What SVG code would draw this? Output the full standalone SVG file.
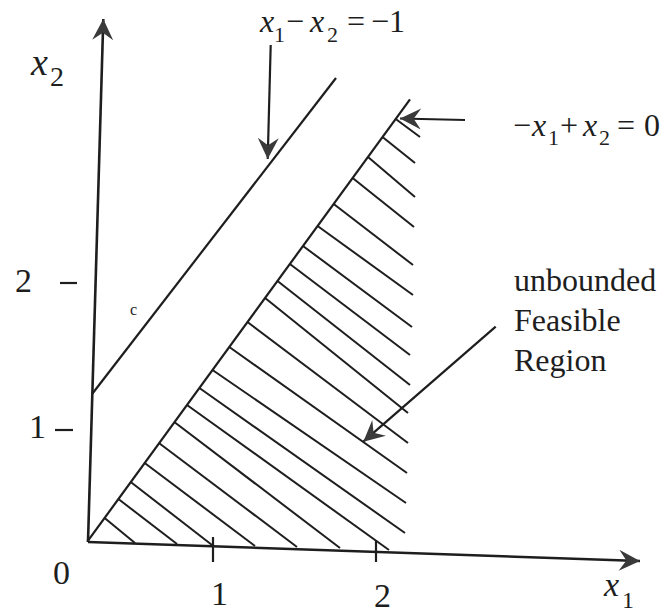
<svg xmlns="http://www.w3.org/2000/svg" width="664" height="613" viewBox="0 0 664 613">
<style>
.ln{stroke:#1e1e1e;stroke-width:2.2;fill:none;stroke-linecap:butt}
.ax{stroke:#1e1e1e;stroke-width:2.6;fill:none}
.ar{stroke:#1e1e1e;stroke-width:2.2;fill:none;marker-end:url(#ah)}
.hat line{stroke:#1e1e1e;stroke-width:2}
text{font-family:"Liberation Serif","Times New Roman",serif;fill:#1e1e1e}
.it{font-style:italic}
.lab{font-size:32px}
.num{font-size:34px}
</style>
<defs>
<marker id="ah" viewBox="0 0 20 20" refX="20" refY="10" markerWidth="22" markerHeight="21" markerUnits="userSpaceOnUse" orient="auto">
<path d="M0,0 L20,10 L0,20 L7,10 z" fill="#3a3a3a"/>
</marker>
</defs>
<g id="axes">
<line class="ax" x1="88" y1="542" x2="103.3" y2="19" marker-end="url(#ah)"/>
<line class="ax" x1="88" y1="542" x2="640" y2="561" marker-end="url(#ah)"/>
<line class="ln" x1="213" y1="537" x2="213" y2="562"/>
<line class="ln" x1="376" y1="540" x2="376" y2="562"/>
<line class="ln" x1="60" y1="283" x2="77" y2="283"/>
<line class="ln" x1="55" y1="430" x2="73" y2="430"/>
</g>
<g id="lines">
<line class="ln" x1="92.5" y1="393.5" x2="336" y2="78"/>
<line class="ln" x1="87.3" y1="541.7" x2="410" y2="99.3"/>
</g>
<g id="hatching" class="hat">
<line x1="104.6" y1="518" x2="135" y2="543"/>
<line x1="118.4" y1="499" x2="177" y2="544"/>
<line x1="130.7" y1="482" x2="212" y2="545"/>
<line x1="144.7" y1="463" x2="255" y2="546"/>
<line x1="158.9" y1="443" x2="297" y2="547"/>
<line x1="174.3" y1="422" x2="340" y2="548"/>
<line x1="187" y1="405" x2="389" y2="550"/>
<line x1="199.4" y1="388" x2="405" y2="533"/>
<line x1="212.5" y1="370" x2="406" y2="503"/>
<line x1="229.3" y1="347" x2="407" y2="473"/>
<line x1="247.5" y1="322" x2="408" y2="443"/>
<line x1="265.1" y1="298" x2="408" y2="413"/>
<line x1="277.5" y1="281" x2="410" y2="385"/>
<line x1="289.9" y1="264" x2="410" y2="355"/>
<line x1="303" y1="246" x2="412" y2="327"/>
<line x1="317.6" y1="226" x2="413" y2="295"/>
<line x1="333.7" y1="204" x2="413" y2="265"/>
<line x1="352.6" y1="178" x2="414" y2="227"/>
<line x1="368" y1="157" x2="415" y2="197"/>
<line x1="382.5" y1="137" x2="415" y2="163"/>
<line x1="395.7" y1="119" x2="420" y2="137"/>
</g>
<g id="connectors">
<line class="ar" x1="270.7" y1="45" x2="267.7" y2="159"/>
<line class="ar" x1="465" y1="120" x2="400" y2="118.5"/>
<line class="ar" x1="495.7" y1="326.7" x2="363.3" y2="441.7"/>
</g>
<g id="label-x2">
<text x="31" y="75" class="it" font-size="38">x</text>
<text x="50" y="86" font-size="28">2</text>
</g>
<g id="label-x1">
<text x="604" y="596" class="it" font-size="34">x</text>
<text x="622" y="608" font-size="24">1</text>
</g>
<g id="eq1">
<text class="lab" y="32"><tspan x="260" class="it">x</tspan><tspan x="274" y="42" font-size="22">1</tspan><tspan x="286" y="32">−</tspan><tspan x="310" class="it">x</tspan><tspan x="327" y="42" font-size="22">2</tspan><tspan x="347" y="32">=</tspan><tspan x="371">−1</tspan></text>
</g>
<g id="eq2">
<text class="lab" y="136"><tspan x="513">−</tspan><tspan x="532" class="it">x</tspan><tspan x="548" y="145" font-size="22">1</tspan><tspan x="560" y="136">+</tspan><tspan x="583" class="it">x</tspan><tspan x="599" y="145" font-size="22">2</tspan><tspan x="617" y="136">=</tspan><tspan x="644">0</tspan></text>
</g>
<g id="region-label">
<text class="lab" x="514" y="291">unbounded</text>
<text class="lab" x="514" y="331">Feasible</text>
<text class="lab" x="514" y="371">Region</text>
</g>
<g id="tick-labels">
<text class="num" x="53" y="584">0</text>
<text class="num" x="211" y="605">1</text>
<text class="num" x="374" y="607">2</text>
<text class="num" x="15" y="292">2</text>
<text class="num" x="29" y="438">1</text>
<text x="130" y="315" font-size="16">c</text>
</g>
</svg>
